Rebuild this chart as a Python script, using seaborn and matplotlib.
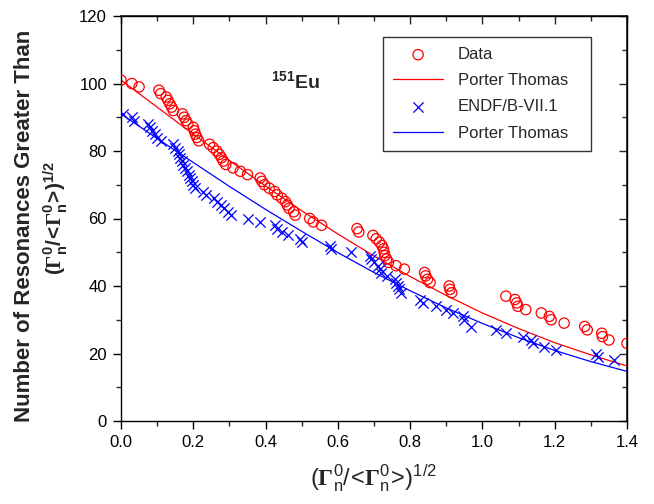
import matplotlib
matplotlib.use("Agg")
import matplotlib.pyplot as plt
import seaborn as sns
import numpy as np
import pandas as pd
from matplotlib.ticker import MultipleLocator

# ---------------- data ----------------
data_x = [0.0, 0.03, 0.05, 0.105, 0.11, 0.125, 0.13, 0.135, 0.14, 0.145,
          0.17, 0.175, 0.18, 0.185, 0.2, 0.203, 0.206, 0.21, 0.215, 0.245,
          0.255, 0.265, 0.272, 0.278, 0.283, 0.29, 0.31, 0.33, 0.35, 0.385,
          0.39, 0.397, 0.41, 0.425, 0.432, 0.445, 0.455, 0.46, 0.465, 0.478,
          0.482, 0.522, 0.532, 0.555, 0.653, 0.658, 0.697, 0.706, 0.715, 0.722,
          0.726, 0.728, 0.73, 0.735, 0.74, 0.761, 0.784, 0.84, 0.843, 0.848,
          0.855, 0.908, 0.91, 0.915, 1.065, 1.09, 1.095, 1.098, 1.12, 1.163,
          1.185, 1.19, 1.226, 1.283, 1.29, 1.33, 1.332, 1.35, 1.40]
data_y = list(range(101, 22, -1))

endf_x = [0.005, 0.03, 0.035, 0.075, 0.08, 0.085, 0.095, 0.1, 0.11, 0.145,
          0.15, 0.157, 0.16, 0.163, 0.168, 0.172, 0.177, 0.182, 0.187, 0.192,
          0.197, 0.2, 0.205, 0.228, 0.235, 0.258, 0.265, 0.278, 0.285, 0.296,
          0.305, 0.352, 0.384, 0.425, 0.432, 0.445, 0.462, 0.494, 0.5, 0.577,
          0.582, 0.637, 0.688, 0.692, 0.7, 0.71, 0.716, 0.72, 0.735, 0.757,
          0.76, 0.766, 0.77, 0.775, 0.826, 0.835, 0.872, 0.9, 0.918, 0.945,
          0.95, 0.968, 1.037, 1.065, 1.111, 1.134, 1.14, 1.17, 1.203, 1.314,
          1.32, 1.364]
endf_y = [91, 90, 89, 88, 87, 86, 85, 84, 83, 82,
          81, 80, 79, 78, 77, 76, 75, 74, 73, 72,
          71, 70, 69, 68, 67, 66, 65, 64, 63, 62,
          61, 60, 59, 58, 57, 56, 55, 54, 53, 52,
          51, 50, 49, 48, 47, 46, 45, 44, 43, 42,
          41, 40, 39, 38, 36, 35, 34, 33, 32, 31,
          30, 28, 27, 26, 25, 24, 23, 22, 21, 20,
          19, 18]

# Porter-Thomas curves, values at x = 0.0 ... 1.4
pt_x = [0.0, 0.1, 0.2, 0.3, 0.4, 0.5, 0.6, 0.7, 0.8, 0.9, 1.0, 1.1, 1.2, 1.3, 1.4]
pt_data_y = [101.0, 93.0, 85.0, 77.2, 69.6, 62.3, 55.4, 48.9, 42.8, 37.2,
             32.0, 27.4, 23.2, 19.6, 16.3]
pt_endf_y = [91.0, 83.7, 76.6, 69.5, 62.7, 56.2, 49.9, 44.0, 38.6, 33.5,
             28.9, 24.7, 20.9, 17.6, 14.7]

x_ticks = [0.0, 0.2, 0.4, 0.6, 0.8, 1.0, 1.2, 1.4]
y_ticks = [0, 20, 40, 60, 80, 100, 120]

# ---------------- style ----------------
sns.set_theme(style="ticks")
plt.rcParams["font.family"] = ["Liberation Sans", "DejaVu Sans"]
plt.rcParams["mathtext.fontset"] = "custom"
plt.rcParams["mathtext.rm"] = "Liberation Sans"
plt.rcParams["mathtext.bf"] = "Liberation Serif:bold"
plt.rcParams["mathtext.it"] = "Liberation Sans:italic"

fig = plt.figure(figsize=(6.54, 5.04), dpi=100)
ax = fig.add_axes([121 / 654, 1 - 421 / 504, 506 / 654, 405 / 504])

sns.scatterplot(x=data_x, y=data_y, ax=ax, marker="o", s=55,
                facecolors="none", edgecolor="#ff0000", linewidth=0.9,
                label="Data", zorder=3)
sns.lineplot(x=pt_x, y=pt_data_y, ax=ax, color="#ff0000", linewidth=0.9,
             label="Porter Thomas", zorder=2)
sns.scatterplot(x=endf_x, y=endf_y, ax=ax, marker="x", s=55,
                color="#0000ff", linewidth=0.9, label="ENDF/B-VII.1", zorder=3)
sns.lineplot(x=pt_x, y=pt_endf_y, ax=ax, color="#0000ff", linewidth=0.9,
             label="Porter Thomas", zorder=2)

ax.set_xlim(0, 1.4)
ax.set_ylim(0, 120)
ax.set_xticks(x_ticks)
ax.set_xticklabels([f"{v:.1f}" for v in x_ticks])
ax.set_yticks(y_ticks)
ax.set_yticklabels([str(v) for v in y_ticks])
ax.xaxis.set_minor_locator(MultipleLocator(0.1))
ax.yaxis.set_minor_locator(MultipleLocator(10))
for s in ax.spines.values():
    s.set_visible(True)
    s.set_linewidth(1.0)
    s.set_color("black")
ax.tick_params(axis="both", which="major", direction="out", length=6,
               width=1, labelsize=12, colors="black", pad=4)
ax.tick_params(axis="both", which="minor", direction="out", length=3.5, width=1)
ax.tick_params(top=False, right=False)

# mirrored inward ticks on top / right
axt = ax.secondary_xaxis("top")
axt.set_xticks(x_ticks)
axt.set_xticklabels([])
axt.xaxis.set_minor_locator(MultipleLocator(0.1))
axt.tick_params(which="major", direction="in", length=6, width=1)
axt.tick_params(which="minor", direction="in", length=3.5, width=1)
axr = ax.secondary_yaxis("right")
axr.set_yticks(y_ticks)
axr.set_yticklabels([])
axr.yaxis.set_minor_locator(MultipleLocator(10))
axr.tick_params(which="major", direction="in", length=6, width=1)
axr.tick_params(which="minor", direction="in", length=3.5, width=1)

gam = (r"$\mathregular{(}\mathbf{\Gamma}_{\mathregular{n}}^{\mathregular{0}}"
       r"\mathregular{/}\!\mathregular{<}\!\mathbf{\Gamma}_{\mathregular{n}}^{\mathregular{0}}"
       r"\!\mathregular{>}\!\mathregular{)}^{\mathregular{1/2}}$")
ax.set_xlabel(gam, fontsize=17, labelpad=9)
ax.set_ylabel("")
fig.text(25 / 654, 1 - 226 / 504, "Number of Resonances Greater Than",
         rotation=90, fontsize=16, fontweight="bold", ha="center", va="center")
fig.text(56 / 654, 1 - 218 / 504, gam, rotation=90, fontsize=15,
         fontweight="bold", ha="center", va="center")

ax.text(0.484, 100.8, r"$\mathregular{^{151}}$Eu", fontsize=14,
        fontweight="bold", ha="center", va="center")

leg = ax.legend(loc="upper left", bbox_to_anchor=(0.518, 0.667, 0.411, 0.281),
                mode="expand", fontsize=12, frameon=True, fancybox=False,
                edgecolor="black", handlelength=3.0, handletextpad=0.9,
                borderpad=0.6, labelspacing=0.67, borderaxespad=0)
leg.get_frame().set_linewidth(1.0)

fig.savefig("out.png", dpi=100)
